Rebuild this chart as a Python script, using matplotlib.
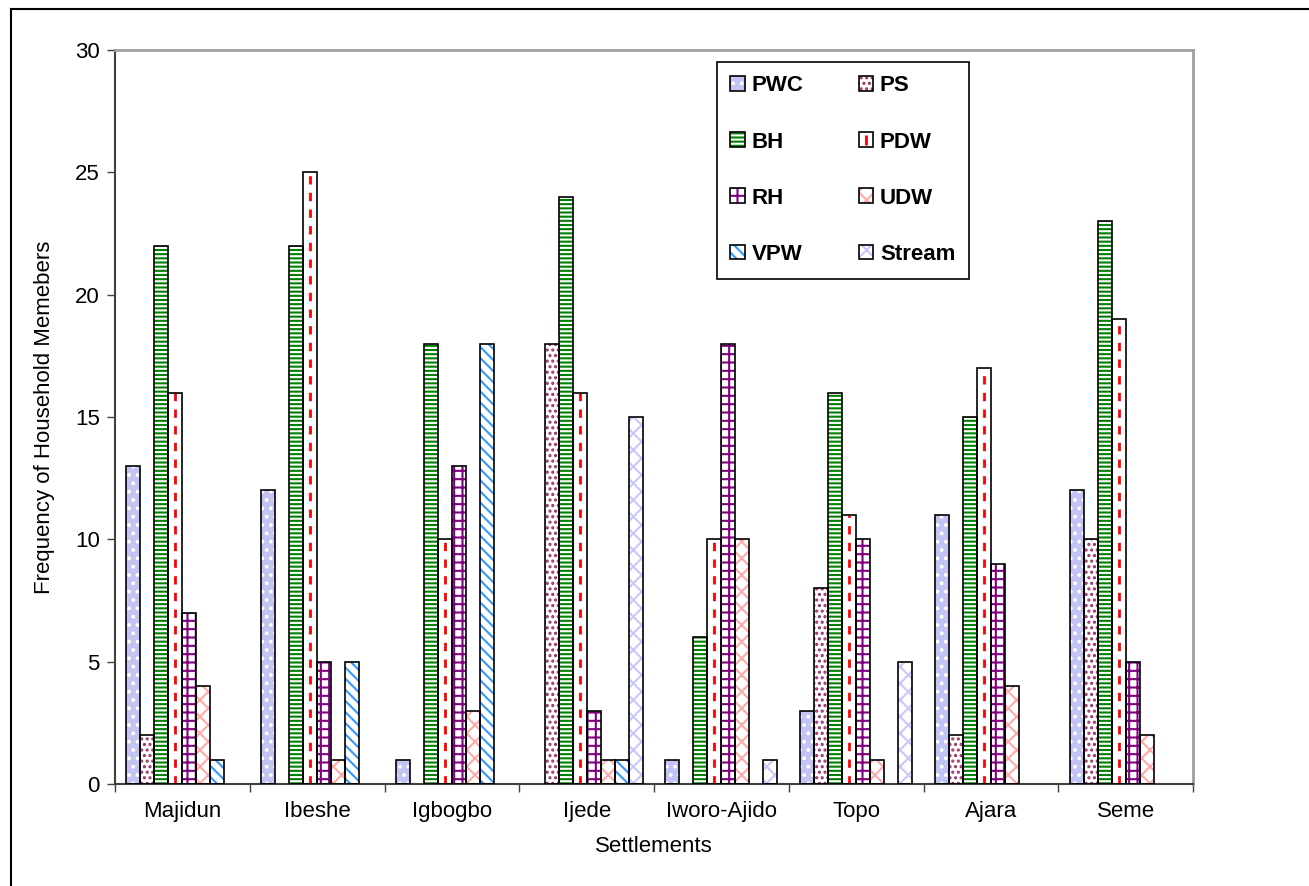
import numpy as np
import matplotlib.pyplot as plt
from matplotlib.patches import Patch
from matplotlib.lines import Line2D

plt.rcParams['font.family'] = ['Liberation Sans', 'DejaVu Sans']
plt.rcParams['hatch.linewidth'] = 1.5

settlements = ['Majidun', 'Ibeshe', 'Igbogbo', 'Ijede', 'Iworo-Ajido', 'Topo', 'Ajara', 'Seme']
sources = ['PWC', 'PS', 'BH', 'PDW', 'RH', 'UDW', 'VPW', 'Stream']

pwc = [13, 12, 1, 0, 1, 3, 11, 12]
ps = [2, 0, 0, 18, 0, 8, 2, 10]
bh = [22, 22, 18, 24, 6, 16, 15, 23]
pdw = [16, 25, 10, 16, 10, 11, 17, 19]
rh = [7, 5, 13, 3, 18, 10, 9, 5]
udw = [4, 1, 3, 1, 10, 1, 4, 2]
vpw = [1, 5, 18, 1, 0, 0, 0, 0]
stream = [0, 0, 0, 15, 1, 5, 0, 0]
values = [pwc, ps, bh, pdw, rh, udw, vpw, stream]

# face colour, hatch, hatch colour per source
styles = {
    'PWC': ('#c4c4f4', '..', 'white'),
    'PS': ('white', '...', '#993366'),
    'BH': ('#008000', '----', 'white'),
    'PDW': ('white', '', 'white'),
    'RH': ('white', '++', '#800080'),
    'UDW': ('white', 'xx', '#ffaaaa'),
    'VPW': ('white', '\\\\\\', '#3399ff'),
    'Stream': ('white', 'xx', '#c8c8ff'),
}

fig = plt.figure(figsize=(13.09, 8.86), dpi=100)
ax = fig.add_axes([0.0879, 0.1151, 0.8235, 0.8285])

x = np.arange(len(settlements))
w = 0.104
handles = {}
for i, (name, vals) in enumerate(zip(sources, values)):
    pos = x + (i - 3.5) * w
    fc, hatch, hc = styles[name]
    lws = [1.2 if v > 0 else 0 for v in vals]
    ax.bar(pos, vals, w, color=fc, hatch=hatch, edgecolor=hc, linewidth=0, zorder=2)
    ax.bar(pos, vals, w, facecolor='none', edgecolor='black', linewidth=lws, zorder=3)
    oh = Patch(facecolor='none', edgecolor='black', linewidth=1.2)
    if name == 'PDW':
        ax.vlines(pos, 0, vals, colors='#ff0000', linestyles=(0, (3, 3)), linewidth=2, zorder=2.5)
        fh = Patch(facecolor='white', edgecolor='white', linewidth=0)
        mk = Line2D([], [], linestyle='none', marker='|', markersize=7,
                    markeredgewidth=2, color='#ff0000')
        handles[name] = (fh, oh, mk)
    else:
        fh = Patch(facecolor=fc, hatch=hatch, edgecolor=hc, linewidth=0)
        handles[name] = (fh, oh)

ax.set_xlim(-0.5, len(settlements) - 0.5)
ax.set_ylim(0, 30)
ax.set_yticks(np.arange(0, 31, 5))
ax.set_xticks(np.arange(-0.5, len(settlements)), labels=[])
ax.set_xticks(x, labels=settlements, minor=True)
ax.tick_params(axis='x', which='minor', length=0, pad=12, labelsize=16)
ax.tick_params(axis='x', which='major', length=6, width=1, color='#404040')
ax.tick_params(axis='y', length=6, width=1, color='#404040', labelsize=16, pad=5)
for s in ['top', 'right']:
    ax.spines[s].set_color('#a0a0a0')
    ax.spines[s].set_linewidth(2)
for s in ['left', 'bottom']:
    ax.spines[s].set_color('#404040')
    ax.spines[s].set_linewidth(1.5)

ax.set_xlabel('Settlements', fontsize=16, labelpad=10)
ax.set_ylabel('Frequency of Household Memebers', fontsize=16, labelpad=14)

order = ['PWC', 'BH', 'RH', 'VPW', 'PS', 'PDW', 'UDW', 'Stream']
leg = ax.legend([handles[n] for n in order], order, ncol=2, loc='upper left',
                bbox_to_anchor=(0.558, 0.984), prop={'weight': 'bold', 'size': 16},
                frameon=True, fancybox=False, edgecolor='black', framealpha=1,
                handlelength=0.65, handleheight=0.65, handletextpad=0.3,
                labelspacing=1.58, columnspacing=2.5, borderpad=0.62, borderaxespad=0)
leg.get_frame().set_linewidth(1.2)

# outer chart frame (left and top edges visible)
fig.add_artist(Line2D([0.0084, 0.0084], [0, 0.99], color='black', lw=1.5, transform=fig.transFigure))
fig.add_artist(Line2D([0.0084, 1], [0.99, 0.99], color='black', lw=1.5, transform=fig.transFigure))

plt.savefig('out.png', dpi=100)
